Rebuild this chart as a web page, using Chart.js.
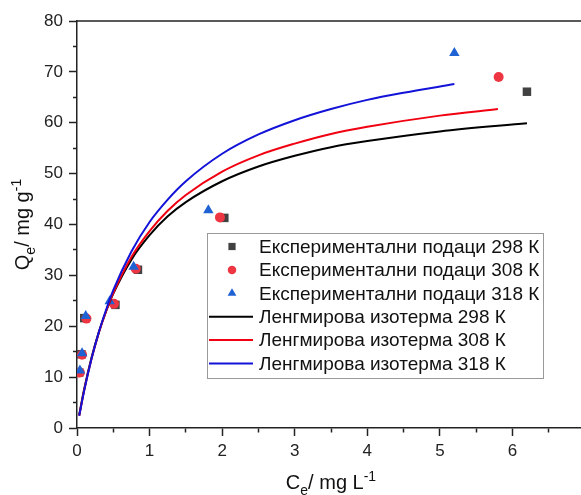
<!DOCTYPE html>
<html>
<head>
<meta charset="utf-8">
<script src="https://cdn.jsdelivr.net/npm/chart.js@4.4.1/dist/chart.umd.min.js"></script>
<style>
  html, body { margin: 0; padding: 0; background: #fff; overflow: hidden; }
  #wrap { width: 620px; height: 495px; }
</style>
</head>
<body>
<div id="wrap"><canvas id="chart" width="620" height="495"></canvas></div>
<script>
// experimental points (Ce, Qe)
const exp298X = [0.03, 0.06, 0.10, 0.53, 0.84, 2.03, 6.20];
const exp298Y = [10.9, 14.5, 21.6, 24.2, 31.1, 41.3, 66.1];
const exp308X = [0.04, 0.07, 0.13, 0.51, 0.81, 1.97, 5.81];
const exp308Y = [10.9, 14.4, 21.5, 24.4, 31.3, 41.4, 69.0];
const exp318X = [0.04, 0.07, 0.12, 0.45, 0.78, 1.81, 5.20];
const exp318Y = [11.3, 14.7, 22.0, 24.9, 31.7, 42.8, 73.7];

// Langmuir curves
const fit298X = [0.03, 0.1, 0.2, 0.3, 0.4, 0.5, 0.75, 1, 1.25, 1.5, 2, 2.5, 3, 3.5, 4, 5, 6.2];
const fit298Y = [2.5, 7.7, 13.8, 18.8, 22.9, 26.4, 33.1, 37.9, 41.6, 44.4, 48.5, 51.4, 53.5, 55.2, 56.4, 58.3, 59.9];
const fit308X = [0.03, 0.1, 0.2, 0.3, 0.4, 0.5, 0.75, 1, 1.25, 1.5, 2, 2.5, 3, 3.5, 4, 5, 5.8];
const fit308Y = [2.4, 7.5, 13.6, 18.7, 22.9, 26.5, 33.6, 38.7, 42.7, 45.8, 50.4, 53.6, 55.9, 57.8, 59.2, 61.4, 62.7];
const fit318X = [0.03, 0.1, 0.2, 0.3, 0.4, 0.5, 0.75, 1, 1.25, 1.5, 2, 2.5, 3, 3.5, 4, 4.5, 5.2];
const fit318Y = [2.4, 7.4, 13.6, 18.8, 23.2, 27.1, 34.7, 40.5, 44.9, 48.5, 53.9, 57.7, 60.5, 62.7, 64.5, 65.9, 67.6];

const labels = [
  'Експериментални подаци 298 К',
  'Експериментални подаци 308 К',
  'Експериментални подаци 318 К',
  'Ленгмирова изотерма 298 К',
  'Ленгмирова изотерма 308 К',
  'Ленгмирова изотерма 318 К'
];

const xTicks = [0, 1, 2, 3, 4, 5, 6, 7];
const yTicks = [0, 10, 20, 30, 40, 50, 60, 70, 80];

const FONT = '"Liberation Sans", Arial, sans-serif';
const AXIS = '#222';

function pts(xs, ys) {
  return xs.map((x, i) => ({ x: x, y: ys[i] }));
}

function scatterSet(label, xs, ys, style, color, r, order) {
  return {
    label: label, data: pts(xs, ys), showLine: false,
    pointStyle: style, pointRadius: r, pointHoverRadius: r,
    pointBackgroundColor: color, pointBorderColor: color, pointBorderWidth: 0,
    backgroundColor: color, borderColor: color, order: order
  };
}

function lineSet(label, xs, ys, color, order) {
  return {
    label: label, data: pts(xs, ys), showLine: true,
    borderColor: color, backgroundColor: color, borderWidth: 2,
    pointRadius: 0, cubicInterpolationMode: 'monotone', order: order
  };
}

// draws text with sub / superscript parts
function richText(ctx, parts, cx, baseY, size) {
  const small = Math.round(size * 0.68);
  let total = 0;
  parts.forEach(p => {
    ctx.font = (p.s ? small : size) + 'px ' + FONT;
    p.w = ctx.measureText(p.t).width;
    total += p.w;
  });
  let x = cx - total / 2;
  ctx.textAlign = 'left';
  ctx.textBaseline = 'alphabetic';
  parts.forEach(p => {
    ctx.font = (p.s ? small : size) + 'px ' + FONT;
    let dy = 0;
    if (p.s === 'sub') dy = size * 0.28;
    if (p.s === 'sup') dy = -size * 0.4;
    ctx.fillText(p.t, x, baseY + dy);
    x += p.w;
  });
}

const decor = {
  id: 'decor',
  afterDraw(chart) {
    const ctx = chart.ctx;
    const area = chart.chartArea;
    ctx.save();

    // top frame line
    ctx.strokeStyle = AXIS;
    ctx.lineWidth = 1.5;
    ctx.beginPath();
    ctx.moveTo(area.left, area.top);
    ctx.lineTo(area.right, area.top);
    ctx.stroke();

    // axis titles
    ctx.fillStyle = '#111';
    richText(ctx, [{ t: 'C' }, { t: 'e', s: 'sub' }, { t: '/ mg L' }, { t: '-1', s: 'sup' }],
      (area.left + area.right) / 2, 489, 20);
    ctx.save();
    ctx.translate(29, (area.top + area.bottom) / 2);
    ctx.rotate(-Math.PI / 2);
    richText(ctx, [{ t: 'Q' }, { t: 'e', s: 'sub' }, { t: '/ mg g' }, { t: '-1', s: 'sup' }], 0, 0, 20);
    ctx.restore();

    // legend box
    const bx = 207, by = 233, bw = 336, bh = 145;
    ctx.fillStyle = '#fff';
    ctx.fillRect(bx, by, bw, bh);
    ctx.strokeStyle = '#999';
    ctx.lineWidth = 1;
    ctx.strokeRect(bx + 0.5, by + 0.5, bw, bh);

    ctx.font = '19px ' + FONT;
    ctx.textBaseline = 'middle';
    ctx.textAlign = 'left';
    chart.data.datasets.forEach((ds, i) => {
      const y = 246.5 + i * 23.4;
      if (ds.showLine) {
        ctx.strokeStyle = ds.borderColor;
        ctx.lineWidth = 2;
        ctx.beginPath();
        ctx.moveTo(209, y);
        ctx.lineTo(253, y);
        ctx.stroke();
      } else {
        ctx.fillStyle = ds.pointBackgroundColor;
        Chart.helpers.drawPoint(ctx, {
          pointStyle: ds.pointStyle, radius: ds.pointRadius * 0.85, borderWidth: 0, rotation: 0
        }, 232, y);
      }
      ctx.fillStyle = '#111';
      ctx.fillText(ds.label, 259, y + 1);
    });
    ctx.restore();
  }
};

// minor ticks: short dash touching the axis line
const minorX = c => (c.tick && xTicks.indexOf(c.tick.value) < 0) ? [4, 40] : [];
const minorY = c => (c.tick && yTicks.indexOf(c.tick.value) < 0) ? [4, 4] : [];

new Chart(document.getElementById('chart'), {
  type: 'scatter',
  data: {
    datasets: [
      scatterSet(labels[0], exp298X, exp298Y, 'rect', '#414141', 6, 5),
      scatterSet(labels[1], exp308X, exp308Y, 'circle', '#ee3542', 5, 4),
      scatterSet(labels[2], exp318X, exp318Y, 'triangle', '#1f62d4', 6, 3),
      lineSet(labels[3], fit298X, fit298Y, '#000000', 2),
      lineSet(labels[4], fit308X, fit308Y, '#f00010', 1),
      lineSet(labels[5], fit318X, fit318Y, '#1212d8', 0)
    ]
  },
  options: {
    responsive: false,
    animation: false,
    layout: { padding: { top: 21, right: 35, left: 0, bottom: 0 } },
    plugins: { legend: { display: false }, tooltip: { enabled: false } },
    scales: {
      x: {
        type: 'linear', min: 0, max: 7,
        afterFit(s) { s.height = 67; },
        border: { color: AXIS, width: 1.5 },
        grid: {
          drawOnChartArea: false, tickLength: 8, tickWidth: 1.5, tickColor: AXIS,
          tickBorderDash: minorX
        },
        ticks: {
          stepSize: 0.5, autoSkip: false, maxRotation: 0, padding: 5,
          color: '#222', font: { family: FONT, size: 17 },
          callback: v => xTicks.indexOf(v) >= 0 ? String(v) : ''
        }
      },
      y: {
        type: 'linear', min: 0, max: 80,
        afterFit(s) { s.width = 77; },
        border: { color: AXIS, width: 1.5 },
        grid: {
          drawOnChartArea: false, tickLength: 8, tickWidth: 1.5, tickColor: AXIS,
          tickBorderDash: minorY,
          tickBorderDashOffset: c => (c.tick && yTicks.indexOf(c.tick.value) < 0) ? 4 : 0
        },
        ticks: {
          stepSize: 5, autoSkip: false, padding: 6,
          color: '#222', font: { family: FONT, size: 17 },
          callback: v => yTicks.indexOf(v) >= 0 ? String(v) : ''
        }
      }
    }
  },
  plugins: [decor]
});
</script>
</body>
</html>
